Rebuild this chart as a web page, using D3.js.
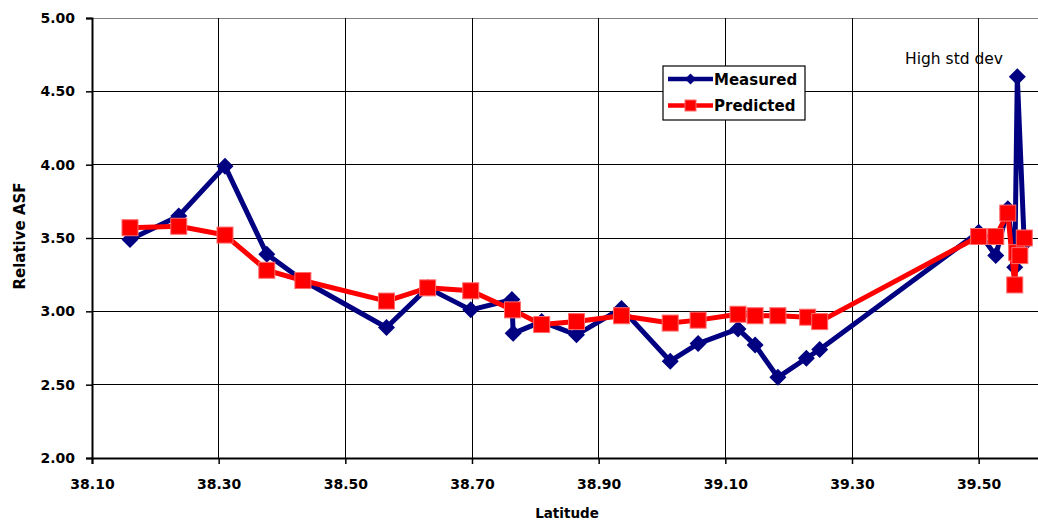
<!DOCTYPE html>
<html>
<head>
<meta charset="utf-8">
<script src="https://cdn.jsdelivr.net/npm/d3@7"></script>
<style>
  body { margin: 0; background: #fff; }
  svg { display: block; font-family: "DejaVu Sans", sans-serif; }
</style>
</head>
<body>
<div class="chart"></div>
<script>
// Measured series (latitude, relative ASF)
const measuredLat = [38.160, 38.237, 38.310, 38.376, 38.433, 38.565, 38.630, 38.698, 38.763, 38.765,
  38.810, 38.865, 38.936, 39.013, 39.057, 39.120, 39.147, 39.183, 39.228, 39.249,
  39.500, 39.527, 39.546, 39.557, 39.561, 39.572];
const measuredASF = [3.49, 3.65, 3.99, 3.39, 3.21, 2.89, 3.16, 3.01, 3.08, 2.85,
  2.93, 2.84, 3.02, 2.66, 2.78, 2.88, 2.77, 2.55, 2.68, 2.74,
  3.54, 3.38, 3.70, 3.30, 4.60, 3.46];

// Predicted series
const predictedLat = [38.160, 38.237, 38.310, 38.376, 38.433, 38.565, 38.630, 38.698, 38.764, 38.810,
  38.865, 38.936, 39.013, 39.057, 39.120, 39.147, 39.183, 39.230, 39.249,
  39.500, 39.527, 39.546, 39.557, 39.560, 39.565, 39.572];
const predictedASF = [3.57, 3.58, 3.52, 3.28, 3.21, 3.07, 3.16, 3.14, 3.01, 2.91,
  2.93, 2.97, 2.92, 2.94, 2.98, 2.97, 2.97, 2.96, 2.93,
  3.51, 3.51, 3.67, 3.18, 3.40, 3.38, 3.50];

const xTicks = [38.10, 38.30, 38.50, 38.70, 38.90, 39.10, 39.30, 39.50];
const yTicks = [2.00, 2.50, 3.00, 3.50, 4.00, 4.50, 5.00];

const W = 1038, H = 523;
const margin = { top: 18, left: 92 };
const width = 950, height = 440;

const svg = d3.select(".chart").append("svg")
  .attr("width", W)
  .attr("height", H);

const x = d3.scaleLinear().domain([38.10, 39.60]).range([0, width]);
const y = d3.scaleLinear().domain([2, 5]).range([height, 0]);

const g = svg.append("g").attr("transform", `translate(${margin.left}, ${margin.top})`);

// gridlines
g.append("g").selectAll("line").data(yTicks.slice(1)).enter().append("line")
  .attr("x1", 0).attr("x2", width)
  .attr("y1", d => y(d)).attr("y2", d => y(d))
  .attr("stroke", d => d === 5 ? "#808080" : "#000")
  .attr("stroke-width", 1)
  .attr("shape-rendering", "crispEdges");
g.append("g").selectAll("line").data(xTicks.slice(1)).enter().append("line")
  .attr("x1", d => x(d)).attr("x2", d => x(d))
  .attr("y1", 0).attr("y2", height)
  .attr("stroke", "#000")
  .attr("stroke-width", 1)
  .attr("shape-rendering", "crispEdges");

// axes
const xAxis = g.append("g")
  .attr("transform", `translate(0, ${height})`)
  .call(d3.axisBottom(x).tickValues(xTicks).tickFormat(d3.format(".2f")).tickSizeOuter(0).tickSize(6).tickPadding(15));
const yAxis = g.append("g")
  .call(d3.axisLeft(y).tickValues(yTicks).tickFormat(d3.format(".2f")).tickSizeOuter(0).tickSize(6).tickPadding(11));
[xAxis, yAxis].forEach(a => {
  a.select(".domain").attr("stroke", "#000").attr("stroke-width", 2);
  a.selectAll(".tick line").attr("stroke", "#000").attr("stroke-width", 1.5);
  a.selectAll(".tick text")
    .attr("font-family", "DejaVu Sans")
    .attr("font-weight", "bold")
    .attr("font-size", "14px")
    .attr("fill", "#000");
});

// series data
const measured = measuredLat.map((d, i) => ({ lat: d, asf: measuredASF[i] }));
const predicted = predictedLat.map((d, i) => ({ lat: d, asf: predictedASF[i] }));

const line = d3.line().x(d => x(d.lat)).y(d => y(d.asf));
const diamond = r => `M0,${-r}L${r},0L0,${r}L${-r},0Z`;

// Measured
g.append("path").datum(measured)
  .attr("d", line)
  .attr("fill", "none")
  .attr("stroke", "#000080")
  .attr("stroke-width", 5)
  .attr("stroke-linejoin", "round");
g.append("g").selectAll("path").data(measured).enter().append("path")
  .attr("d", diamond(8.5))
  .attr("transform", d => `translate(${x(d.lat)}, ${y(d.asf)})`)
  .attr("fill", "#000080");

// Predicted
g.append("path").datum(predicted)
  .attr("d", line)
  .attr("fill", "none")
  .attr("stroke", "#ff0000")
  .attr("stroke-width", 5)
  .attr("stroke-linejoin", "round");
const sq = 16;
g.append("g").selectAll("rect").data(predicted).enter().append("rect")
  .attr("x", d => x(d.lat) - sq / 2)
  .attr("y", d => y(d.asf) - sq / 2)
  .attr("width", sq).attr("height", sq)
  .attr("fill", "#ff0000")
  .attr("stroke", "#ff6a6a")
  .attr("stroke-width", 1);

// annotation
svg.append("text")
  .attr("x", 905).attr("y", 64)
  .attr("font-size", "15.5px")
  .attr("fill", "#000")
  .text("High std dev");

// axis titles
svg.append("text")
  .attr("x", margin.left + width / 2).attr("y", 518)
  .attr("text-anchor", "middle")
  .attr("font-weight", "bold").attr("font-size", "13.5px")
  .text("Latitude");
svg.append("text")
  .attr("transform", `translate(25, ${margin.top + height / 2 - 2}) rotate(-90)`)
  .attr("text-anchor", "middle")
  .attr("font-weight", "bold").attr("font-size", "15px")
  .text("Relative ASF");

// legend
const legend = svg.append("g").attr("transform", "translate(663, 66)");
legend.append("rect")
  .attr("width", 142).attr("height", 54)
  .attr("fill", "#fff").attr("stroke", "#000").attr("stroke-width", 1.2);
const items = [
  { name: "Measured", color: "#000080", mark: "diamond", y: 13 },
  { name: "Predicted", color: "#ff0000", mark: "square", y: 39.5 }
];
items.forEach(it => {
  legend.append("line")
    .attr("x1", 5).attr("x2", 50)
    .attr("y1", it.y).attr("y2", it.y)
    .attr("stroke", it.color).attr("stroke-width", 4.5);
  if (it.mark === "diamond") {
    legend.append("path").attr("d", diamond(5.5))
      .attr("transform", `translate(27.5, ${it.y})`).attr("fill", it.color);
  } else {
    legend.append("rect")
      .attr("x", 22).attr("y", it.y - 5.5).attr("width", 11).attr("height", 11)
      .attr("fill", it.color).attr("stroke", "#ff6a6a").attr("stroke-width", 1);
  }
  legend.append("text")
    .attr("x", 51).attr("y", it.y + 5.5)
    .attr("font-weight", "bold").attr("font-size", "15px")
    .text(it.name);
});
</script>
</body>
</html>
